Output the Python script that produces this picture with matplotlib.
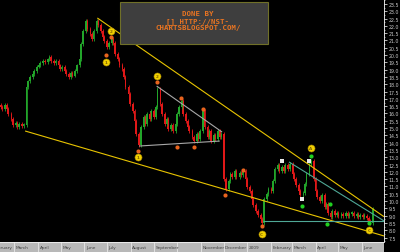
import matplotlib
matplotlib.use("Agg")
import matplotlib.pyplot as plt
import matplotlib.dates as mdates
import numpy as np
import pandas as pd
from matplotlib.patches import Rectangle

# ---- data ----
start_date = "2008-02-12"
closes = [16.44, 16.3, 16.58, 16.3, 15.96, 15.62, 15.21, 15.35, 15.07, 15.28, 15.14, 15.21,
          17.8, 18.2, 18.5, 18.7, 18.9, 19.2, 19.3, 19.45, 19.6, 19.5, 19.7, 19.87, 19.6, 19.45,
          19.6, 19.3, 19.05, 19.2, 18.9, 18.7, 18.5, 18.8, 18.6, 18.9, 19.3, 19.7,
          20.76, 21.65, 22.33, 21.8, 21.44, 21.1, 21.65, 22.33, 22.06, 21.65, 21.24, 20.97,
          20.55, 20.83, 21.1, 20.83, 20.07, 19.73, 19.32,
          19.05, 18.5, 17.8, 17.33, 16.65, 16.17, 15.48, 14.6, 13.84,
          15.07, 15.76, 15.28, 15.96, 15.62, 16.17, 15.76, 16.44, 17.68, 16.65, 15.96, 15.28,
          15.62, 14.94, 15.21, 14.8, 15.28, 15.96, 16.44, 16.85, 15.96, 15.48, 15.07, 14.8,
          14.39, 14.12, 14.6, 14.25, 14.8, 16.17, 15.07, 14.39, 14.8, 14.12, 14.53, 14.25,
          14.8, 14.39, 14.59,
          11.51, 10.83, 11.37, 11.85, 11.65, 12.06, 11.65, 11.92, 11.78, 12.06, 11.51, 10.96,
          10.69, 10.14, 9.73, 9.32, 9.05, 8.77, 8.5,
          10.14, 10.48, 10.83, 10.69, 11.37, 12.2, 12.47, 12.06, 12.33, 12.06, 12.47, 12.2,
          12.54, 11.85, 11.51, 11.1, 10.69, 10.42, 10.55, 11.17, 11.85, 12.54, 12.75,
          11.51, 10.69, 10.28, 10.0, 10.42, 9.6, 9.8, 9.18, 8.91, 9.32, 9.05, 9.18, 8.98,
          9.11, 8.98, 9.18, 8.98, 9.11, 9.18, 8.98, 9.11, 8.91, 9.05, 8.91, 8.98, 8.84,
          8.63, 8.5, 9.46]
first_open = 16.6

# trendlines (date, price)
yellow_lines = [(("2008-06-18", 22.54), ("2009-06-30", 8.93)),
                (("2008-03-15", 14.80), ("2009-06-30", 7.61))]
gray_lines = [(("2008-09-04", 17.88), ("2008-11-29", 14.73)),
              (("2008-08-12", 13.77), ("2008-11-26", 14.11))]
teal_lines = [(("2009-02-25", 12.68), ("2009-06-30", 8.64)),
              (("2009-01-22", 8.64), ("2009-06-30", 8.64))]

# markers
yellow_dates = ["2008-07-06", "2008-06-29", "2008-09-04", "2008-08-10", "2009-01-20", "2009-03-26", "2009-06-10"]
yellow_prices = [21.65, 19.52, 18.57, 13.02, 7.74, 13.63, 8.02]
yellow_labels = ["2", "1", "2", "1", "C", "A", "C"]
orange_dates = ["2008-07-06", "2008-06-29", "2008-09-04", "2008-10-06", "2008-11-04", "2008-08-10",
                "2008-10-01", "2008-10-23", "2008-12-27", "2008-12-03", "2009-01-20"]
orange_prices = [21.24, 20.0, 18.16, 17.06, 16.31, 13.43, 13.7, 13.7, 12.13, 10.42, 8.29]
white_dates = ["2009-02-16", "2009-03-14", "2009-03-24"]
white_prices = [12.74, 10.14, 12.74]
green_dates = ["2009-03-26", "2009-03-14", "2009-04-20", "2009-04-16", "2009-06-10"]
green_prices = [13.09, 9.66, 9.8, 8.43, 8.5]

month_starts = ["2008-02-01", "2008-03-01", "2008-04-01", "2008-05-01", "2008-06-01", "2008-07-01",
                "2008-08-01", "2008-09-01", "2008-10-01", "2008-11-01", "2008-12-01", "2009-01-01",
                "2009-02-01", "2009-03-01", "2009-04-01", "2009-05-01", "2009-06-01"]
month_labels = ["February", "March", "April", "May", "June", "July", "August", "September", "",
                "November", "December", "2009", "February", "March", "April", "May", "June"]

y_ticks = np.arange(7.5, 23.51, 0.5)

# ---- figure ----
W, H = 400, 253
fig = plt.figure(figsize=(4, 2.53), dpi=100, facecolor="black")
ax = fig.add_axes([0, 10 / H, 384 / W, 243 / H], facecolor="black")

dates = pd.bdate_range(start_date, periods=2 * len(closes))[::2][:len(closes)]
x = mdates.date2num(dates.to_pydatetime())
c = np.array(closes)
o = np.concatenate([[first_open], c[:-1]])
up = c >= o
body = np.maximum(np.abs(c - o), 0.12)
bottom = np.minimum(o, c)
cols = np.where(up, "#22a52a", "#e01818")
ax.bar(x, body, bottom=bottom, width=2.3, color=cols, linewidth=0)
ax.vlines(x, bottom - 0.12, bottom + body + 0.12, colors=cols, lw=0.6)

def dn(s):
    return mdates.date2num(pd.Timestamp(s).to_pydatetime())

for lines, col in [(yellow_lines, "#e8c400"), (gray_lines, "#a8a8a8"), (teal_lines, "#4fa896")]:
    for (d0, p0), (d1, p1) in lines:
        ax.plot([dn(d0), dn(d1)], [p0, p1], color=col, lw=0.8, solid_capstyle="butt")

ax.scatter([dn(d) for d in orange_dates], orange_prices, s=9, color="#e8641e", zorder=5, linewidths=0)
ax.scatter([dn(d) for d in green_dates], green_prices, s=9, color="#20d020", zorder=5, linewidths=0)
ax.scatter([dn(d) for d in white_dates], white_prices, s=5, marker="s", color="#e8e8e8", zorder=5, linewidths=0)
ax.scatter([dn(d) for d in yellow_dates], yellow_prices, s=26, color="#f0d000", edgecolors="#a08000",
           linewidths=0.4, zorder=6)
for d, p, t in zip(yellow_dates, yellow_prices, yellow_labels):
    ax.text(dn(d), p, t, fontsize=3, color="#806000", ha="center", va="center", zorder=7,
            fontweight="bold")

xmin, xmax = dn("2008-02-11"), dn("2009-06-30")
ax.set_xlim(xmin, xmax)
ax.set_ylim(23.84 - 243 / 14.6, 23.84)
ax.set_xticks([])
for s in ["left", "top", "bottom"]:
    ax.spines[s].set_visible(False)
ax.spines["right"].set_color("white")
ax.spines["right"].set_linewidth(0.6)
ax.yaxis.tick_right()
ax.set_yticks(y_ticks)
ax.set_yticklabels([f"{v:.1f}" for v in y_ticks])
ax.set_yticks(np.arange(7.25, 23.8, 0.5), minor=True)
ax.tick_params(axis="y", which="major", colors="white", labelcolor="#c8c8c8", labelsize=3.4,
               length=2, width=0.5, pad=1.5)
ax.tick_params(axis="y", which="minor", colors="white", length=1, width=0.4)

# x strip
axs = fig.add_axes([0, 0, 384 / W, 10 / H], facecolor="#b8b8b8")
axs.set_xlim(xmin, xmax)
axs.set_ylim(0, 1)
axs.set_xticks([])
axs.set_yticks([])
for s in axs.spines.values():
    s.set_visible(False)
axs.axhline(1, color="#e8e8e8", lw=0.8)
for d, t in zip(month_starts, month_labels):
    axs.axvline(dn(d), color="#f0f0f0", lw=0.5)
    if t:
        axs.text(dn(d) + 2.0, 0.45, t, fontsize=3.1, color="#404040", ha="left", va="center",
                 clip_on=True)

# watermark box
fig.patches.append(Rectangle((120 / W, 1 - 45 / H), 148 / W, 42 / H, transform=fig.transFigure,
                             facecolor="#3e3e3e", edgecolor="#707028", linewidth=0.8, zorder=10))
for yy, t in [(14.5, "DONE BY"), (21.5, "[] HTTP://NST-"), (28, "CHARTSBLOGSPOT.COM/")]:
    fig.text(198 / W, 1 - yy / H, t, fontsize=5.3, color="#e87422", family="DejaVu Sans Mono",
             fontweight="bold", ha="center", va="center", zorder=11)

fig.savefig("out.png", dpi=100, facecolor="black")
